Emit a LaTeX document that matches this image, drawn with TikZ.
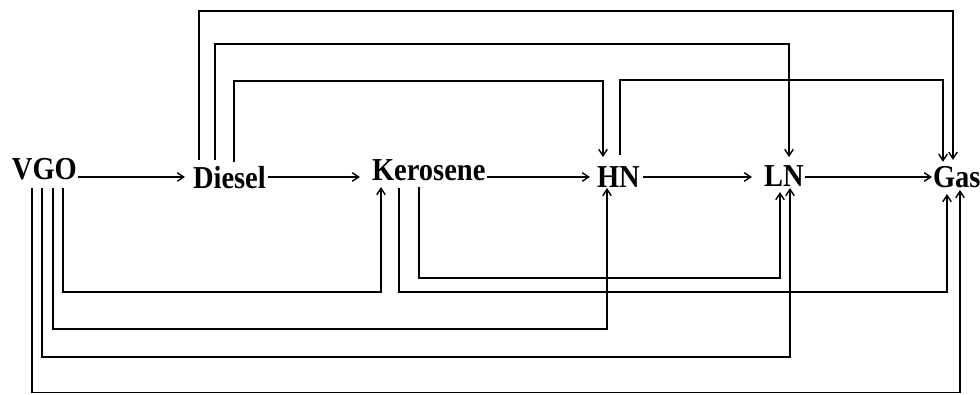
\documentclass[tikz,border=0pt]{standalone}
\usepackage{fontspec}
\usepackage{graphicx}
\setmainfont{Liberation Serif}
\usetikzlibrary{arrows.meta,calc}
\newcommand{\lbltext}[1]{\scalebox{1}[1.12]{#1}}
\begin{document}
\begin{tikzpicture}[x=1pt,y=-1pt,
  lbl/.style={inner sep=0pt,outer sep=0pt,anchor=base west,font=\fontsize{28.5}{30}\selectfont\bfseries},
  arr/.style={line width=1.5pt,-{Straight Barb[length=6.5pt,width=8.5pt,line width=1.4pt]}}]
\useasboundingbox[fill=white] (0,0) rectangle (980,394);
% nodes
\node[lbl] (vgo) at (12,179) {\lbltext{VGO}};
\node[lbl] (diesel) at (193,188) {\lbltext{Diesel}};
\node[lbl] (kero) at (372,180) {\lbltext{Kerosene}};
\node[lbl] (hn) at (597,187) {\lbltext{HN}};
\node[lbl] (ln) at (764,186) {\lbltext{LN}};
\node[lbl] (gas) at (933,187) {\lbltext{Gas}};
% main chain
\draw[arr] ($(vgo.east |- 0,177)+(1,0)$) -- ($(diesel.west |- 0,177)+(-8,0)$);
\draw[arr] ($(diesel.east |- 0,177)+(2,0)$) -- ($(kero.west |- 0,177)+(-12,0)$);
\draw[arr] ($(kero.east |- 0,177)+(2,0)$) -- ($(hn.west |- 0,177)+(-7,0)$);
\draw[arr] ($(hn.east |- 0,177)+(3,0)$) -- ($(ln.west |- 0,177)+(-12,0)$);
\draw[arr] ($(ln.east |- 0,177)+(1,0)$) -- ($(gas.west |- 0,177)+(-1,0)$);
% from VGO below
\draw[arr] ($(vgo.base -| 63,0)+(0,9)$) -- (63,292) -| ($(kero.base -| 381,0)+(0,7)$);
\draw[arr] ($(vgo.base -| 53,0)+(0,9)$) -- (53,329) -| ($(hn.base -| 607,0)+(0,1)$);
\draw[arr] ($(vgo.base -| 42,0)+(0,9)$) -- (42,357) -| ($(ln.base -| 790,0)+(0,2)$);
\draw[arr] ($(vgo.base -| 32,0)+(0,9)$) -- (32,392.5) -| ($(gas.base -| 960,0)+(0,3)$);
% from Kerosene below
\draw[arr] ($(kero.base -| 419,0)+(0,7)$) -- (419,278) -| ($(ln.base -| 780,0)+(0,6)$);
\draw[arr] ($(kero.base -| 399,0)+(0,8)$) -- (399,292) -| ($(gas.base -| 947,0)+(0,7)$);
% from Diesel above
\draw[arr] ($(diesel.north -| 199,0)+(0,-6)$) -- (199,11) -| ($(gas.north -| 953,0)+(0,-6)$);
\draw[arr] ($(diesel.north -| 215,0)+(0,-6)$) -- (215,44) -| ($(ln.north -| 789,0)+(0,-8)$);
\draw[arr] ($(diesel.north -| 234,0)+(0,-4)$) -- (234,81) -| ($(hn.north -| 603,0)+(0,-9)$);
% HN to Gas above
\draw[arr] ($(hn.north -| 620,0)+(0,-11)$) -- (620,80) -| ($(gas.north -| 943,0)+(0,-4)$);
\end{tikzpicture}
\end{document}
